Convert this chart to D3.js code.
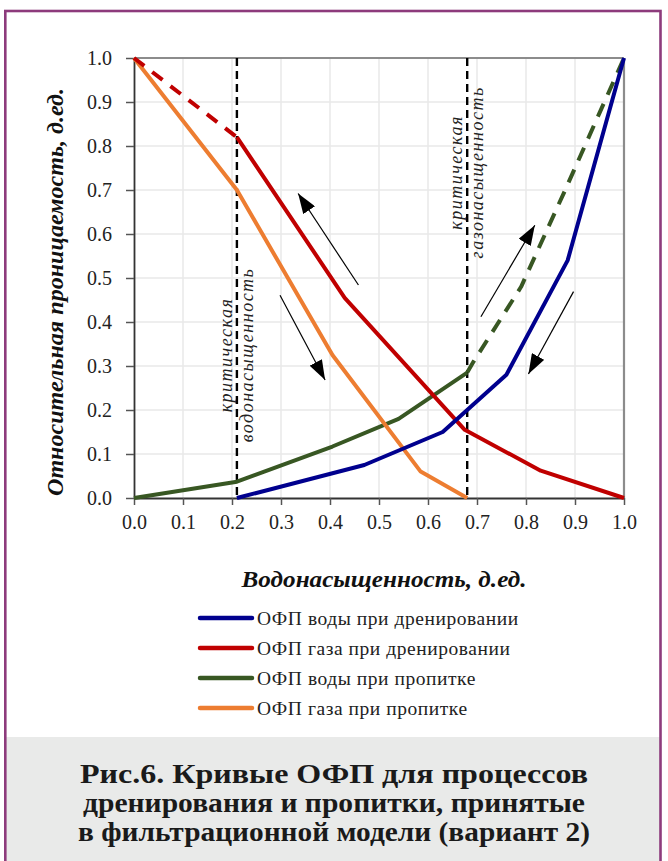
<!DOCTYPE html>
<html><head><meta charset="utf-8">
<script src="https://cdn.jsdelivr.net/npm/d3@7/dist/d3.min.js"></script>
<style>html,body{margin:0;padding:0;background:#fff;}svg{display:block;}</style>
</head><body>
<svg id="chart" width="668" height="861"></svg>
<script>
// ---- data ----
const xTicks = [0,0.1,0.2,0.3,0.4,0.5,0.6,0.7,0.8,0.9,1.0];
const yTicks = [0,0.1,0.2,0.3,0.4,0.5,0.6,0.7,0.8,0.9,1.0];

const waterDrainX = [0.21, 0.47, 0.63, 0.76, 0.885, 1.0];
const waterDrainY = [0, 0.075, 0.15, 0.28, 0.54, 1.0];

const gasDrainX = [0.21, 0.43, 0.675, 0.83, 1.0];
const gasDrainY = [0.82, 0.455, 0.155, 0.062, 0];
const gasDrainDashX = [0, 0.21];
const gasDrainDashY = [1.0, 0.82];

const waterImbX = [0, 0.21, 0.405, 0.54, 0.68];
const waterImbY = [0, 0.037, 0.117, 0.18, 0.285];
const waterImbDashX = [0.68, 0.693, 0.79, 0.88, 1.0];
const waterImbDashY = [0.285, 0.31, 0.48, 0.70, 1.0];

const gasImbX = [0, 0.21, 0.405, 0.585, 0.68];
const gasImbY = [1.0, 0.70, 0.325, 0.06, 0];

const criticalX = [0.21, 0.68];
const criticalLabels = [["критическая","водонасыщенность"],["критическая","газонасыщенность"]];
const criticalLabelY = [0.325, 0.74];

// arrows: [x1,y1,x2,y2] in data units (x2,y2 = tip)
const arrows = [
  [0.458, 0.484, 0.335, 0.692],
  [0.298, 0.461, 0.390, 0.268],
  [0.708, 0.412, 0.818, 0.620],
  [0.897, 0.469, 0.805, 0.282]
];

const seriesNames = ["ОФП воды при дренировании","ОФП газа при дренировании","ОФП воды при пропитке","ОФП газа при пропитке"];
const seriesColors = ["#00008e","#c00000","#385723","#ed7d31"];

const xTitle = "Водонасыщенность, д.ед.";
const yTitle = "Относительная проницаемость, д.ед.";
const captionLines = ["Рис.6. Кривые ОФП для процессов","дренирования и пропитки, принятые","в фильтрационной модели (вариант 2)"];

// ---- drawing ----
const svg = d3.select("#chart");
const x = d3.scaleLinear().domain([0,1]).range([134,624]);
const y = d3.scaleLinear().domain([0,1]).range([498,58]);
const serif = "'Liberation Serif', 'DejaVu Serif', serif";

svg.append("rect").attr("x",0).attr("y",0).attr("width",668).attr("height",861).attr("fill","#fff");
// caption band
svg.append("rect").attr("x",6).attr("y",737).attr("width",654).attr("height",130).attr("fill","#e9eae9");
// frame
svg.append("rect").attr("x",5.3).attr("y",11).attr("width",655.2).attr("height",870)
  .attr("fill","none").attr("stroke","#8d3b7c").attr("stroke-width",2.6);

// grid
const g = svg.append("g");
g.selectAll(".gx").data(xTicks.slice(1,-1)).join("line")
  .attr("x1",d=>x(d)).attr("x2",d=>x(d)).attr("y1",y(0)).attr("y2",y(1))
  .attr("stroke","#e8e8e8").attr("stroke-width",1.5);
g.selectAll(".gy").data(yTicks.slice(1,-1)).join("line")
  .attr("y1",d=>y(d)).attr("y2",d=>y(d)).attr("x1",x(0)).attr("x2",x(1))
  .attr("stroke","#e8e8e8").attr("stroke-width",1.5);
// top/right border
g.append("line").attr("x1",x(0)).attr("x2",x(1)).attr("y1",y(1)).attr("y2",y(1)).attr("stroke","#8c8c8c").attr("stroke-width",2.2);
g.append("line").attr("x1",x(1)).attr("x2",x(1)).attr("y1",y(0)).attr("y2",y(1)).attr("stroke","#8c8c8c").attr("stroke-width",2.2);

// axes
const fmt = d3.format(".1f");
const ax = svg.append("g").attr("transform",`translate(0,${y(0)})`)
  .call(d3.axisBottom(x).tickValues(xTicks).tickFormat(fmt).tickSize(7).tickSizeOuter(0).tickPadding(10));
const ay = svg.append("g").attr("transform",`translate(${x(0)},0)`)
  .call(d3.axisLeft(y).tickValues(yTicks).tickFormat(fmt).tickSize(8).tickSizeOuter(0).tickPadding(14));
[ax,ay].forEach(a=>{
  a.select(".domain").attr("stroke","#333").attr("stroke-width",1.8);
  a.selectAll(".tick line").attr("stroke","#555").attr("stroke-width",1.5);
  a.selectAll(".tick text").attr("font-family",serif).attr("font-size",20).attr("fill","#222");
});

// critical vertical lines
svg.selectAll(".crit").data(criticalX).join("line")
  .attr("x1",d=>x(d)).attr("x2",d=>x(d)).attr("y1",y(1)).attr("y2",y(0))
  .attr("stroke","#000").attr("stroke-width",2.4).attr("stroke-dasharray","8,5");

// critical labels
criticalX.forEach((cx,i)=>{
  const t = svg.append("text")
    .attr("transform",`translate(${x(cx)},${y(criticalLabelY[i])}) rotate(-90)`)
    .attr("text-anchor","middle").attr("font-family",serif).attr("font-style","italic")
    .attr("font-size",18).attr("letter-spacing",1.5).attr("fill","#222");
  t.append("tspan").attr("x",0).attr("y",-5).text(criticalLabels[i][0]);
  t.append("tspan").attr("x",0).attr("y",16).text(criticalLabels[i][1]);
});

// lines
const line = d3.line().x(d=>x(d[0])).y(d=>y(d[1]));
const zip = (a,b)=>a.map((v,i)=>[v,b[i]]);
function draw(xs,ys,color,dash){
  svg.append("path").attr("d",line(zip(xs,ys))).attr("fill","none")
    .attr("stroke",color).attr("stroke-width",4).attr("stroke-linejoin","round")
    .attr("stroke-dasharray",dash||null);
}
draw(waterImbX,waterImbY,seriesColors[2]);
draw(waterImbDashX,waterImbDashY,seriesColors[2],"14,10");
draw(gasImbX,gasImbY,seriesColors[3]);
draw(gasDrainX,gasDrainY,seriesColors[1]);
draw(gasDrainDashX,gasDrainDashY,seriesColors[1],"13,10");
draw(waterDrainX,waterDrainY,seriesColors[0]);

// arrows
svg.append("defs").append("marker").attr("id","ah").attr("markerUnits","userSpaceOnUse")
  .attr("viewBox","0 0 20 14").attr("refX",20).attr("refY",7)
  .attr("markerWidth",20).attr("markerHeight",14).attr("orient","auto")
  .append("path").attr("d","M0,0 L20,7 L0,14 Z").attr("fill","#000");
svg.selectAll(".arr").data(arrows).join("line")
  .attr("x1",d=>x(d[0])).attr("y1",d=>y(d[1])).attr("x2",d=>x(d[2])).attr("y2",d=>y(d[3]))
  .attr("stroke","#000").attr("stroke-width",1.2).attr("marker-end","url(#ah)");

// axis titles
svg.append("text").attr("x",384).attr("y",587).attr("text-anchor","middle")
  .attr("font-family",serif).attr("font-weight","bold").attr("font-style","italic")
  .attr("font-size",23.5).attr("fill","#111")
  .attr("textLength",285).attr("lengthAdjust","spacingAndGlyphs").text(xTitle);
svg.append("text").attr("transform","translate(63,292) rotate(-90)").attr("text-anchor","middle")
  .attr("font-family",serif).attr("font-weight","bold").attr("font-style","italic")
  .attr("font-size",23.5).attr("fill","#111")
  .attr("textLength",408).attr("lengthAdjust","spacingAndGlyphs").text(yTitle);

// legend
const leg = svg.append("g");
seriesNames.forEach((n,i)=>{
  const yy = 618 + i*30;
  leg.append("line").attr("x1",200).attr("x2",252).attr("y1",yy).attr("y2",yy)
    .attr("stroke",seriesColors[i]).attr("stroke-width",4.5).attr("stroke-linecap","round");
  leg.append("text").attr("x",257).attr("y",yy+6.5).attr("font-family",serif)
    .attr("font-size",19.5).attr("letter-spacing",0.55).attr("fill","#222").text(n);
});

// caption
const capLen = [508, 502, 512];
captionLines.forEach((c,i)=>{
  svg.append("text").attr("x",334).attr("y",783+i*29).attr("text-anchor","middle")
    .attr("font-family",serif).attr("font-weight","bold").attr("font-size",26.5)
    .attr("fill","#1a1a1a").attr("textLength",capLen[i]).attr("lengthAdjust","spacingAndGlyphs").text(c);
});
</script>
</body></html>
